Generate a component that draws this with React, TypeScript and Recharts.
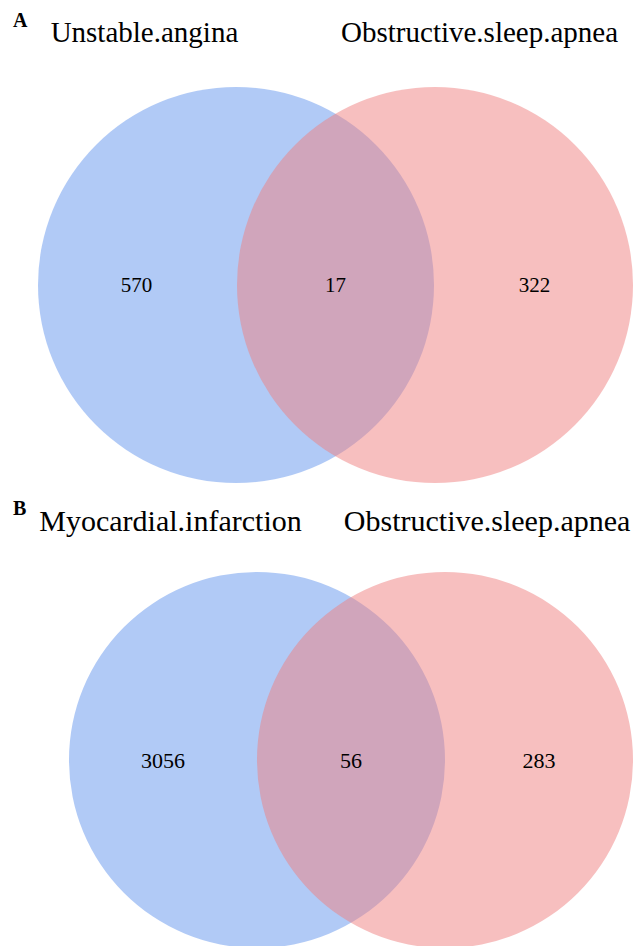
import { ScatterChart, Scatter, XAxis, YAxis, ZAxis } from 'recharts';

// set names and region counts (left only, overlap, right only)
const panelANames = ['Unstable.angina', 'Obstructive.sleep.apnea'];
const panelACounts = [570, 17, 322];
const panelBNames = ['Myocardial.infarction', 'Obstructive.sleep.apnea'];
const panelBCounts = [3056, 56, 283];
const setColors = ['cornflowerblue', 'lightcoral'];

// category label positions, in units of centre distance
const nameX = [-0.46, 1.224];
const nameY = 1.22;

const FONT = "'Liberation Serif'";

interface VennProps {
  names: string[];
  counts: number[];
  width: number;
  height: number;
  xDomain: [number, number];
  yDomain: [number, number];
  radius: number;
  nameSize: number;
  countSize: number;
}

function Venn2({
  names,
  counts,
  width,
  height,
  xDomain,
  yDomain,
  radius,
  nameSize,
  countSize,
}: VennProps) {
  const circles = names.map((name, i) => ({ x: i, y: 0, z: 1, name }));
  const regions = counts.map((c, i) => ({ x: i - 0.5, y: 0, z: 1, label: String(c) }));
  const titles = names.map((name, i) => ({ x: nameX[i], y: nameY, z: 1, label: name }));
  const area = Math.PI * radius * radius;

  const renderCount = (p: any) => (
    <text
      x={p.cx}
      y={p.cy}
      textAnchor="middle"
      dominantBaseline="central"
      style={{ fontFamily: FONT, fontSize: countSize, fill: '#000' }}
    >
      {p.payload.label}
    </text>
  );

  const renderName = (p: any) => (
    <text
      x={p.cx}
      y={p.cy}
      textAnchor="middle"
      style={{ fontFamily: FONT, fontSize: nameSize, fill: '#000' }}
    >
      {p.payload.label}
    </text>
  );

  return (
    <ScatterChart width={width} height={height} margin={{ top: 0, right: 0, bottom: 0, left: 0 }}>
      <XAxis type="number" dataKey="x" domain={xDomain} hide allowDataOverflow />
      <YAxis type="number" dataKey="y" domain={yDomain} hide allowDataOverflow />
      <ZAxis type="number" dataKey="z" range={[area, area]} />
      {circles.map((c, i) => (
        <Scatter
          key={c.name + i}
          data={[c]}
          fill={setColors[i]}
          fillOpacity={0.5}
          isAnimationActive={false}
        />
      ))}
      <Scatter data={regions} shape={renderCount} isAnimationActive={false} />
      <Scatter data={titles} shape={renderName} isAnimationActive={false} />
    </ScatterChart>
  );
}

const letterStyle = {
  position: 'absolute' as const,
  left: 13,
  fontFamily: FONT,
  fontWeight: 700,
  fontSize: 20,
  lineHeight: '20px',
  color: '#000',
};

export default function App() {
  return (
    <div
      style={{
        position: 'absolute',
        left: 0,
        top: 0,
        width: 635,
        height: 946,
        background: '#fff',
        overflow: 'hidden',
      }}
    >
      <div style={{ position: 'absolute', left: 0, top: 0 }}>
        <Venn2
          names={panelANames}
          counts={panelACounts}
          width={635}
          height={490}
          xDomain={[-236 / 199, 399 / 199]}
          yDomain={[-205 / 199, 285 / 199]}
          radius={198}
          nameSize={29}
          countSize={21}
        />
      </div>
      <div style={{ position: 'absolute', left: 0, top: 490 }}>
        <Venn2
          names={panelBNames}
          counts={panelBCounts}
          width={635}
          height={456}
          xDomain={[-257 / 188, 378 / 188]}
          yDomain={[-186 / 188, 270 / 188]}
          radius={188}
          nameSize={30}
          countSize={22}
        />
      </div>
      <div style={{ ...letterStyle, top: 10 }}>A</div>
      <div style={{ ...letterStyle, top: 498 }}>B</div>
    </div>
  );
}
